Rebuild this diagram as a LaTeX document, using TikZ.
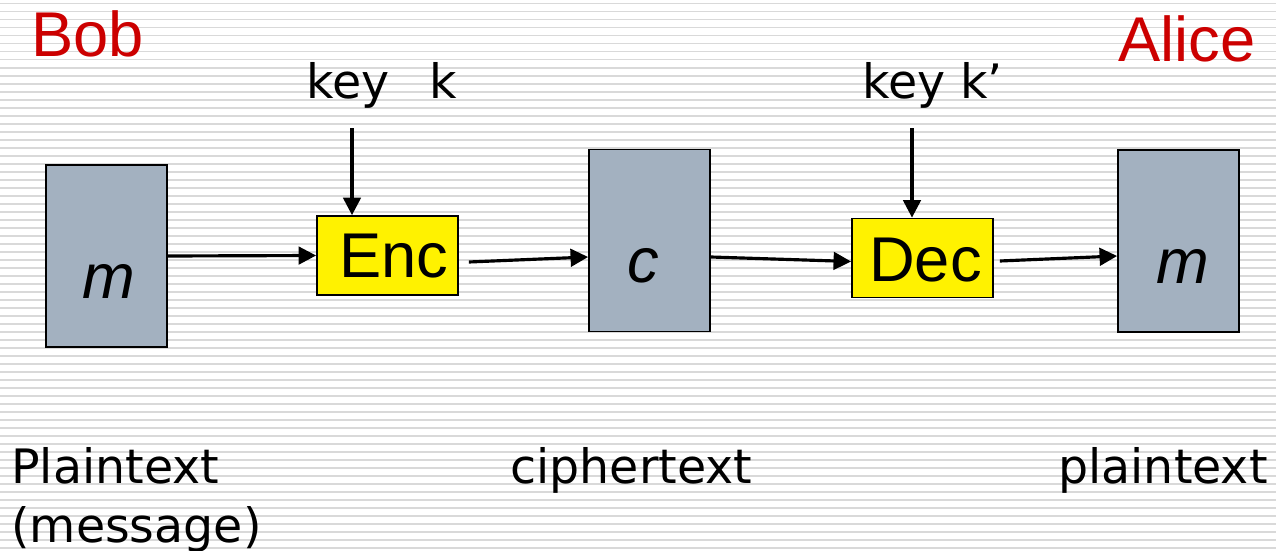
\documentclass[tikz,border=0pt]{standalone}
\usepackage{fontspec}
\setmainfont{Liberation Sans}
\newfontfamily\verdana{DejaVu Sans}
\usetikzlibrary{arrows.meta,calc}
\definecolor{partyred}{RGB}{204,0,0}
\definecolor{boxgray}{RGB}{163,177,192}
\definecolor{stripegray}{RGB}{217,217,217}
\tikzset{
    msgbox/.style = {draw, line width=1pt, fill=boxgray, inner sep=0,
                     minimum width=2.42cm, minimum height=3.64cm},
    algbox/.style = {draw, line width=1pt, fill=yellow, inner sep=0,
                     minimum width=2.82cm, minimum height=1.58cm},
    boxtext/.style = {inner sep=0, font=\fontsize{36}{42}\selectfont},
    party/.style = {inner sep=0, text=partyred, font=\fontsize{36}{42}\selectfont},
    caption/.style = {inner sep=0, font=\verdana\fontsize{27}{33}\selectfont},
    arr/.style = {-{Triangle[length=10pt,width=10pt]}, line width=1.8pt},
}

\begin{document}
\begin{tikzpicture}[x=0.02cm, y=-0.02cm]
    \useasboundingbox (0,0) rectangle (1276,551);
    % striped background
    \foreach \k in {0,...,68}
        \draw [stripegray, line width=0.04cm] (0,3.5+8*\k) -- (1276,3.5+8*\k);

    \node[party, anchor=base west] (bob) at (31,56) {Bob};
    \node[party, anchor=base east] (alice) at (1256,61) {Alice};

    \node[msgbox] (mL) at (106.5,256) {};
    \node[boxtext] (mLtxt) at (109,281) {\itshape m};

    \node[algbox] (enc) at (387.5,255.5) {};
    \node[boxtext] (enctxt) at (393.5,256) {Enc};

    \node[msgbox] (c) at (649.5,240.5) {};
    \node[boxtext] (ctxt) at (643,266) {\itshape c};

    \node[algbox] (dec) at (922.5,258) {};
    \node[boxtext] (dectxt) at (925.5,260) {Dec};

    \node[msgbox] (mR) at (1178.5,241) {};
    \node[boxtext] (mRtxt) at (1183,266) {\itshape m};

    \node[caption, anchor=base west] (keyk) at (306,98) {key\hspace{0.85em}k};
    \node[caption, anchor=base west] (keyk2) at (862,98) {key k’};
    \coordinate (kin) at (352,128);
    \coordinate (k2in) at (912,128);

    \node[caption, anchor=base west] (ptxt) at (11,483) {Plaintext};
    \node[caption, anchor=base west] (ptxtmsg) at (11,542) {(message)};
    \node[caption, anchor=base west] (ctxtcap) at (510,483) {ciphertext};
    \node[caption, anchor=base west] (ptxt2) at (1058,483) {plaintext};

    \draw [arr] (mL.east) -- (enc.west);
    \draw [arr] (kin) -- (kin |- enc.north);
    \draw [arr] ($(enc.east)+(10,6.5)$) -- ($(c.west)+(0,16.5)$);
    \draw [arr] ($(c.east)+(0,16.5)$) -- ($(dec.west)+(0,3.5)$);
    \draw [arr] (k2in) -- (k2in |- dec.north);
    \draw [arr] ($(dec.east)+(6,3)$) -- ($(mR.west)+(0,15)$);

\end{tikzpicture}
\end{document}
